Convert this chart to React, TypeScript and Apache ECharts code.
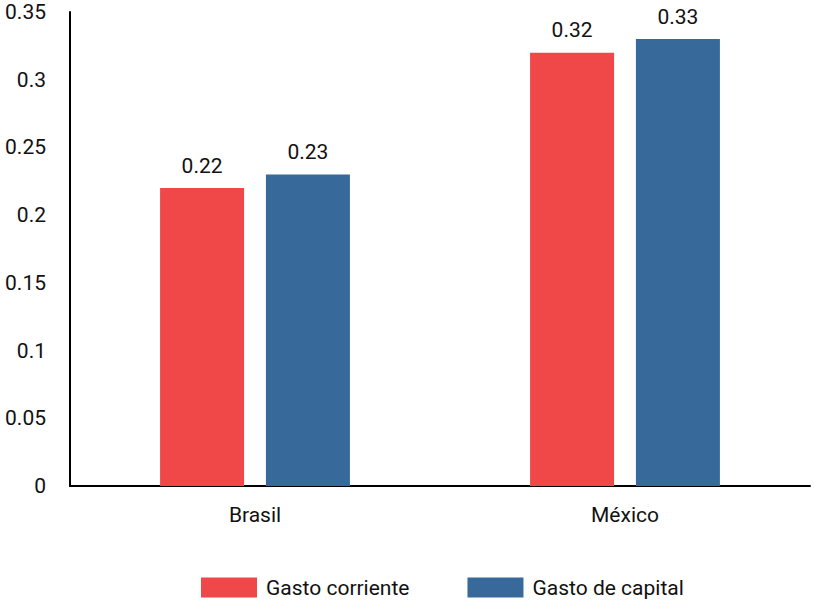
import React, { useEffect, useRef } from "react";
import * as echarts from "echarts";

const countries = ["Brasil", "México"];
const gastoCorriente = [0.22, 0.32];
const gastoCapital = [0.23, 0.33];
const seriesNames = ["Gasto corriente", "Gasto de capital"];

const FONT = 'Roboto, "Noto Sans", sans-serif';
const FONT_SIZE = 21;
const RED = "#F04848";
const BLUE = "#376A9A";
const INK = "#111";

export default function App() {
  const ref = useRef<HTMLDivElement>(null);

  useEffect(() => {
    document.body.style.margin = "0";
    document.body.style.overflow = "hidden";
    if (!ref.current) return;
    const chart = echarts.init(ref.current, undefined, { renderer: "svg" });

    const barLabel = {
      show: true,
      position: "top" as const,
      distance: 12,
      fontFamily: FONT,
      fontSize: FONT_SIZE,
      color: INK,
      formatter: (p: any) => Number(p.value).toFixed(2),
    };

    chart.setOption({
      animation: false,
      backgroundColor: "#fff",
      textStyle: { fontFamily: FONT },
      grid: { left: 70, right: 4, top: 12, bottom: 114, containLabel: false },
      legend: {
        data: seriesNames,
        left: 196,
        top: 572,
        padding: 5,
        itemWidth: 56,
        itemHeight: 20,
        itemGap: 58,
        icon: "rect",
        textStyle: {
          fontFamily: FONT,
          fontSize: FONT_SIZE,
          lineHeight: 20,
          color: INK,
          padding: [0, 0, 0, 4],
        },
      },
      xAxis: {
        type: "category",
        data: countries,
        axisLine: { show: true, lineStyle: { color: "#000", width: 2 } },
        axisTick: { show: false },
        axisLabel: { fontFamily: FONT, fontSize: FONT_SIZE, color: INK, margin: 18 },
      },
      yAxis: {
        type: "value",
        min: 0,
        max: 0.35,
        interval: 0.05,
        splitLine: { show: false },
        axisLine: { show: true, lineStyle: { color: "#000", width: 2 } },
        axisTick: { show: false },
        axisLabel: {
          fontFamily: FONT,
          fontSize: FONT_SIZE,
          color: INK,
          margin: 24,
          padding: [8, 0, 0, 0],
        },
      },
      series: [
        {
          name: seriesNames[0],
          type: "bar",
          data: gastoCorriente,
          barWidth: 84,
          barGap: "26%",
          itemStyle: { color: RED },
          label: barLabel,
        },
        {
          name: seriesNames[1],
          type: "bar",
          data: gastoCapital,
          barWidth: 84,
          barGap: "26%",
          itemStyle: { color: BLUE },
          label: barLabel,
        },
      ],
    });

    return () => chart.dispose();
  }, []);

  return <div ref={ref} style={{ width: 814, height: 600 }} />;
}
